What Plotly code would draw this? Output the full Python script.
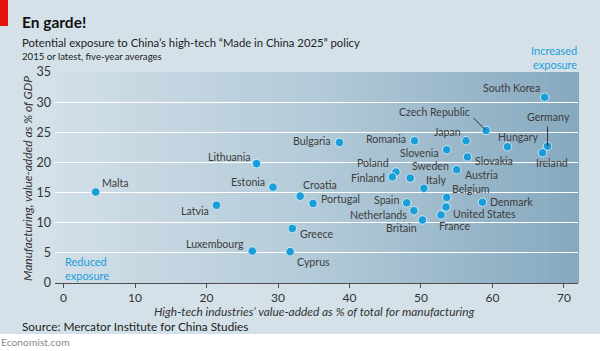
import plotly.graph_objects as go

# ---------------- data ----------------
countries = ["Malta", "Lithuania", "Estonia", "Latvia", "Bulgaria", "Croatia", "Portugal",
             "Greece", "Cyprus", "Luxembourg", "Romania", "Japan", "Czech Republic",
             "Germany", "South Korea", "Ireland", "Hungary", "Slovenia", "Slovakia",
             "Poland", "Finland", "Sweden", "Italy", "Austria", "Belgium", "Denmark",
             "Spain", "Netherlands", "United States", "France", "Britain"]
hightech = [4.5, 27.0, 29.3, 21.4, 38.6, 33.1, 34.9,
            32.0, 31.7, 26.4, 49.1, 56.3, 59.1,
            67.7, 67.3, 67.0, 62.1, 53.6, 56.5,
            46.5, 46.0, 48.5, 50.4, 55.0, 53.6, 58.6,
            48.0, 49.0, 53.5, 52.8, 50.2]
manufacturing = [15.1, 19.8, 15.9, 12.9, 23.3, 14.4, 13.2,
                 9.05, 5.2, 5.3, 23.6, 23.6, 25.3,
                 22.7, 30.8, 21.6, 22.6, 22.1, 20.9,
                 18.4, 17.6, 17.4, 15.7, 18.8, 14.2, 13.4,
                 13.3, 12.0, 12.6, 11.3, 10.45]
x_ticks = [0, 10, 20, 30, 40, 50, 60, 70]
y_ticks = [0, 5, 10, 15, 20, 25, 30, 35]

# label placement (style): xanchor, xshift, yshift in pixels
label_pos = {
    "Malta": ("left", 4, 9), "Lithuania": ("right", -4, 7), "Estonia": ("right", -6, 5),
    "Latvia": ("right", -6, -6), "Bulgaria": ("right", -6, 2), "Croatia": ("left", 1, 11),
    "Portugal": ("left", 6, 4), "Greece": ("left", 6, -6), "Cyprus": ("left", 5, -10),
    "Luxembourg": ("right", -6, 7), "Romania": ("right", -7, 2), "Japan": ("right", -3, 9),
    "Czech Republic": ("right", -14, 18), "Germany": ("center", 1, 29),
    "South Korea": ("right", -3, 9), "Ireland": ("center", 9, -10), "Hungary": ("left", -12, 10),
    "Slovenia": ("right", -6, -3), "Slovakia": ("left", 6, -4), "Poland": ("right", -5, 9),
    "Finland": ("right", -5, -1), "Sweden": ("left", 0, 12), "Italy": ("left", 0, 8.5),
    "Austria": ("left", 6, -5), "Belgium": ("left", 3, 8), "Denmark": ("left", 6, 0),
    "Spain": ("right", -6, 3), "Netherlands": ("right", -5, -4), "United States": ("left", 5, -7),
    "France": ("center", 13, -11), "Britain": ("right", -3, -8),
}
leaders = {"Czech Republic": (-14, -14), "Germany": (0, -21)}

# ---------------- layout geometry ----------------
W, H = 600, 351
ML, MR, MT, MB = 55, 22, 72, 68
PW, PH = W - ML - MR, H - MT - MB


def px(xp, yp):
    return (xp - ML) / PW, (H - MB - yp) / PH


FONT = "Lato, sans-serif"
TXT = "#3c3c3c"
CYAN = "#1a9ed9"

fig = go.Figure()
fig.add_trace(go.Scatter(
    x=hightech, y=manufacturing, mode="markers",
    marker=dict(size=8.5, color=CYAN, line=dict(width=0.8, color="#e6f3fa")),
    hoverinfo="text", text=countries, showlegend=False, cliponaxis=False))

annotations = []
for c, xv, yv in zip(countries, hightech, manufacturing):
    xa, xs, ys = label_pos[c]
    annotations.append(dict(x=xv, y=yv, xref="x", yref="y", text=c, showarrow=False,
                            xanchor=xa, yanchor="middle", xshift=xs, yshift=ys,
                            font=dict(family=FONT, size=10.6, color=TXT)))
    if c in leaders:
        ax, ay = leaders[c]
        annotations.append(dict(x=xv, y=yv, xref="x", yref="y", text="", showarrow=True,
                                ax=ax, ay=ay, axref="pixel", ayref="pixel", arrowhead=0,
                                arrowwidth=1, arrowcolor="#333333", standoff=0))


def add_text(xp, yp, text, size, color=TXT, xanchor="left", bold=False, italic=False,
             yanchor="middle", align="left"):
    xx, yy = px(xp, yp)
    t = f"<b>{text}</b>" if bold else text
    t = f"<i>{t}</i>" if italic else t
    annotations.append(dict(x=xx, y=yy, xref="paper", yref="paper", text=t, showarrow=False,
                            xanchor=xanchor, yanchor=yanchor, align=align,
                            font=dict(family=FONT, size=size, color=color)))


add_text(20, 22, "En garde!", 15.5, color="#111111", bold=True)
add_text(20, 42, "Potential exposure to China’s high-tech “Made in China 2025” policy", 11.3, color="#222222")
add_text(20, 56, "2015 or latest, five-year averages", 9.6, color="#222222")
add_text(579, 57, "Increased<br>exposure", 11, color=CYAN, xanchor="right", align="right")
add_text(63, 268, "Reduced<br>exposure", 11, color=CYAN, xanchor="left", align="left")
add_text(314, 311, "High-tech industries’ value-added as % of total for manufacturing", 11.9,
         color="#333333", xanchor="center", italic=True)
add_text(20, 326, "Source: Mercator Institute for China Studies", 11.8, color="#222222")
add_text(-1, 342, "Economist.com", 10.3, color="#8a8a8a")

# y-axis title (rotated)
xx, yy = px(27, 179)
annotations.append(dict(x=xx, y=yy, xref="paper", yref="paper", textangle=-90,
                        text="<i>Manufacturing, value-added as % of GDP</i>", showarrow=False,
                        xanchor="center", yanchor="middle",
                        font=dict(family=FONT, size=12, color="#333333")))

# ---------------- background shapes ----------------
shapes = []
x0p, _ = px(0, 0)
x1p, _ = px(W, 0)
_, ytop = px(0, 334)
_, ybot = px(0, H)
shapes.append(dict(type="rect", xref="paper", yref="paper", x0=x0p, x1=x1p, y0=ybot, y1=ytop,
                   fillcolor="white", line=dict(width=0), layer="below"))
_, r0 = px(0, 26)
_, r1 = px(0, 0)
rx1, _ = px(8, 0)
shapes.append(dict(type="rect", xref="paper", yref="paper", x0=x0p, x1=rx1, y0=r0, y1=r1,
                   fillcolor="#e3120b", line=dict(width=0), layer="below"))

# gradient panel (strips)
left = (0xd2, 0xdf, 0xe8)
mid = (0xb3, 0xca, 0xd8)
right = (0x86, 0xa9, 0xbf)
N = 90
for i in range(N):
    t = (i + 0.5) / N
    if t < 0.5:
        u = t / 0.5
        col = tuple(round(left[k] + (mid[k] - left[k]) * u) for k in range(3))
    else:
        u = (t - 0.5) / 0.5
        col = tuple(round(mid[k] + (right[k] - mid[k]) * u) for k in range(3))
    shapes.append(dict(type="rect", xref="x domain", yref="y domain", x0=i / N, x1=(i + 1) / N + 0.002,
                       y0=0, y1=1, fillcolor="rgb(%d,%d,%d)" % col, line=dict(width=0), layer="below"))

fig.update_layout(
    width=W, height=H, margin=dict(l=ML, r=MR, t=MT, b=MB),
    paper_bgcolor="#d4e1e9", plot_bgcolor="rgba(0,0,0,0)",
    font=dict(family=FONT, color=TXT),
    annotations=annotations, shapes=shapes, showlegend=False,
    xaxis=dict(range=[-1.19, 71.96], tickvals=x_ticks, showgrid=False, zeroline=False,
               showline=True, linecolor="#4d4d4d", linewidth=1, ticks="outside", ticklen=4,
               tickcolor="#4d4d4d", tickfont=dict(family=FONT, size=12, color="#333333"),
               fixedrange=True),
    yaxis=dict(range=[0, 35], tickvals=y_ticks, showgrid=True, gridcolor="white", gridwidth=1.3,
               zeroline=False, showline=False, ticks="", ticklabelstandoff=3,
               tickfont=dict(family=FONT, size=12.5, color="#333333"), fixedrange=True),
)

fig.write_html("out.html")
